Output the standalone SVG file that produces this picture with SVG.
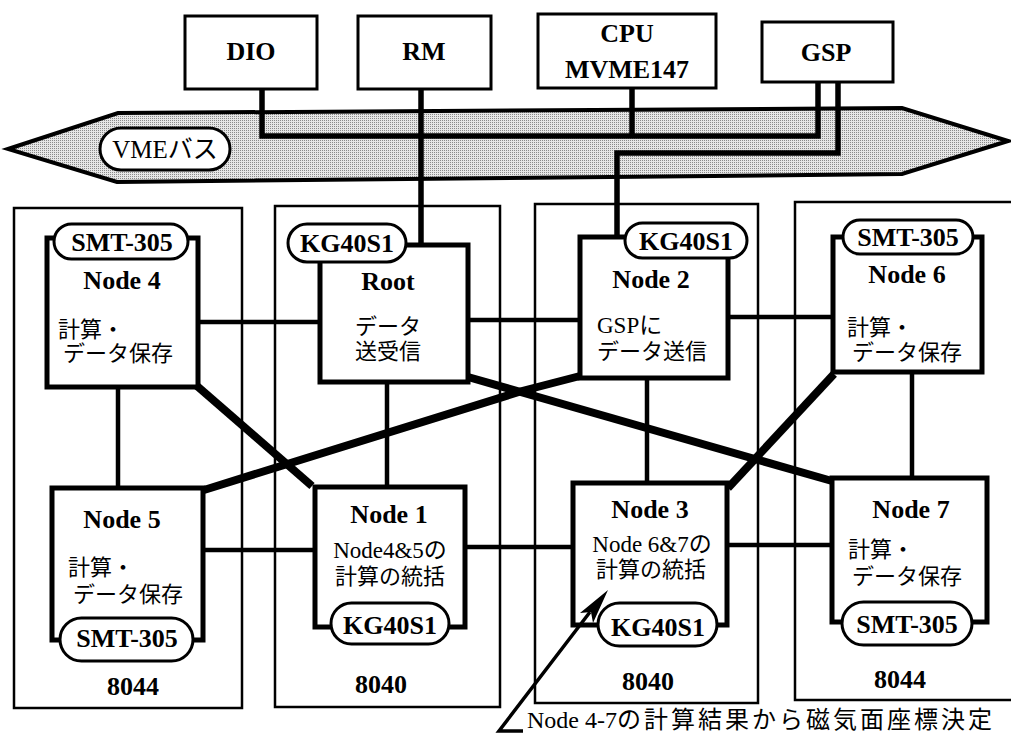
<svg xmlns="http://www.w3.org/2000/svg" width="1011" height="738" viewBox="0 0 1011 738">
<style>
.nb{fill:#fff;stroke:#000;stroke-width:5}
.box{fill:#fff;stroke:#000;stroke-width:3}
.pill{fill:#fff;stroke:#000;stroke-width:3}
.fr{fill:none;stroke:#000;stroke-width:2.5}
.b{font-family:"Liberation Serif","Noto Sans CJK JP",serif;font-weight:bold;font-size:26px;text-anchor:middle;fill:#000}
.j{font-family:"Liberation Serif","Noto Sans CJK JP",sans-serif;font-size:22px;fill:#000}
.bl{fill:none;stroke:#000;stroke-width:5.5}
.c{fill:none;stroke:#000;stroke-width:4.5}
.t{fill:none;stroke:#000;stroke-width:8;stroke-linejoin:round}
</style>
<defs>
<pattern id="dots" width="2" height="2" patternUnits="userSpaceOnUse">
<rect width="2" height="2" fill="#e6e6e6"/>
<rect width="1" height="1" fill="#8a8a8a"/>
</pattern>
</defs>
<rect width="1011" height="738" fill="#fff"/>

<g id="frames">
<rect class="fr" x="14" y="208" width="228" height="500"/>
<rect class="fr" x="275" y="206" width="225" height="501"/>
<rect class="fr" x="535" y="204" width="223" height="499"/>
<rect class="fr" x="795" y="202" width="225" height="498"/>
<text class="b" x="133" y="695">8044</text>
<text class="b" x="381" y="693">8040</text>
<text class="b" x="648" y="690">8040</text>
<text class="b" x="900" y="688">8044</text>
</g>

<g id="vme-bus">
<polygon points="8,149 118,113 902,108 1008,141 902,174 117,182" fill="url(#dots)" stroke="#000" stroke-width="4" stroke-linejoin="miter"/>
<rect class="pill" x="100" y="128" width="130" height="42" rx="21"/>
<text x="165" y="158" text-anchor="middle" style="font-family:'Liberation Serif','Noto Sans CJK JP',serif;font-size:25px">VMEバス</text>
</g>

<g id="connectors">
<polyline class="bl" points="262,89 262,136 818,136 818,82"/>
<line class="bl" x1="632" y1="88" x2="632" y2="136"/>
<line class="bl" x1="421" y1="89" x2="421" y2="245"/>
<polyline class="bl" points="838,82 838,153 617,153 617,237"/>
<line class="c" x1="198" y1="322" x2="320" y2="322"/>
<line class="c" x1="468" y1="320" x2="580" y2="320"/>
<line class="c" x1="728" y1="317" x2="833" y2="317"/>
<line class="c" x1="118" y1="387" x2="118" y2="488"/>
<line class="c" x1="387" y1="382" x2="387" y2="487"/>
<line class="c" x1="647" y1="378" x2="647" y2="483"/>
<line class="c" x1="912" y1="372" x2="912" y2="478"/>
<line class="c" x1="203" y1="550" x2="315" y2="550"/>
<line class="c" x1="465" y1="547" x2="573" y2="547"/>
<line class="c" x1="727" y1="545" x2="832" y2="545"/>
<polyline class="t" points="197,386 312,486"/>
<polyline class="t" points="204,490 522,391 580,376"/>
<polyline class="t" points="468,377 832,481"/>
<polyline class="t" points="834,374 728,488"/>
</g>

<g id="dio">
<rect class="box" x="185" y="16" width="132" height="73"/>
<text class="b" x="251" y="60">DIO</text>
</g>
<g id="rm">
<rect class="box" x="358" y="16" width="133" height="73"/>
<text class="b" x="424" y="60">RM</text>
</g>
<g id="cpu">
<rect class="box" x="538" y="14" width="178" height="74"/>
<text class="b" x="627" y="42">CPU</text>
<text class="b" x="627" y="78">MVME147</text>
</g>
<g id="gsp">
<rect class="box" x="762" y="22" width="131" height="60"/>
<text class="b" x="826" y="61">GSP</text>
</g>

<g id="node4">
<rect class="nb" x="47" y="238" width="151" height="149"/>
<rect class="pill" x="54" y="224" width="134" height="35" rx="17.5"/>
<text class="b" x="122" y="251">SMT-305</text>
<text class="b" x="122" y="289">Node 4</text>
<text class="j"><tspan x="58" y="337">計算・</tspan><tspan x="63" y="361">データ保存</tspan></text>
</g>

<g id="root">
<rect class="nb" x="320" y="245" width="148" height="137"/>
<rect class="pill" x="288" y="224" width="118" height="38" rx="19"/>
<text class="b" x="347" y="252">KG40S1</text>
<text class="b" x="388" y="290">Root</text>
<text class="j" text-anchor="middle"><tspan x="388" y="334">データ</tspan><tspan x="388" y="359">送受信</tspan></text>
</g>

<g id="node2">
<rect class="nb" x="580" y="237" width="148" height="141"/>
<rect class="pill" x="625" y="223" width="122" height="35" rx="17.5"/>
<text class="b" x="686" y="250">KG40S1</text>
<text class="b" x="651" y="288">Node 2</text>
<text class="j"><tspan x="597" y="333" style="font-size:23px">GSPに</tspan><tspan x="597" y="359">データ送信</tspan></text>
</g>

<g id="node6">
<rect class="nb" x="833" y="237" width="149" height="135"/>
<rect class="pill" x="843" y="220" width="130" height="34" rx="17"/>
<text class="b" x="908" y="246">SMT-305</text>
<text class="b" x="907" y="283">Node 6</text>
<text class="j"><tspan x="847" y="335">計算・</tspan><tspan x="852" y="360">データ保存</tspan></text>
</g>

<g id="node5">
<rect class="nb" x="52" y="488" width="151" height="152"/>
<rect class="pill" x="60" y="618" width="133" height="43" rx="21.5"/>
<text class="b" x="127" y="647">SMT-305</text>
<text class="b" x="122" y="528">Node 5</text>
<text class="j"><tspan x="68" y="575">計算・</tspan><tspan x="73" y="602">データ保存</tspan></text>
</g>

<g id="node1">
<rect class="nb" x="315" y="487" width="150" height="140"/>
<rect class="pill" x="331" y="603" width="118" height="41" rx="20.5"/>
<text class="b" x="390" y="634">KG40S1</text>
<text class="b" x="389" y="523">Node 1</text>
<text class="j" text-anchor="middle"><tspan x="390" y="558" style="font-size:23px">Node4&amp;5の</tspan><tspan x="390" y="584">計算の統括</tspan></text>
</g>

<g id="node3">
<rect class="nb" x="573" y="483" width="154" height="142"/>
<rect class="pill" x="598" y="603" width="119" height="43" rx="21.5"/>
<text class="b" x="658" y="636">KG40S1</text>
<text class="b" x="650" y="518">Node 3</text>
<text class="j" text-anchor="middle"><tspan x="652" y="552" style="font-size:23px">Node 6&amp;7の</tspan><tspan x="651" y="577">計算の統括</tspan></text>
</g>

<g id="node7">
<rect class="nb" x="832" y="478" width="155" height="144"/>
<rect class="pill" x="842" y="602" width="130" height="43" rx="21.5"/>
<text class="b" x="907" y="633">SMT-305</text>
<text class="b" x="911" y="518">Node 7</text>
<text class="j"><tspan x="848" y="557">計算・</tspan><tspan x="852" y="584">データ保存</tspan></text>
</g>

<g id="annotation">
<polyline points="523,731 499,731 590,612" fill="none" stroke="#000" stroke-width="3.5" stroke-linejoin="miter"/>
<polygon points="608,590 580,613 591,612 593,623" fill="#000"/>
<text x="527" y="728" style="font-family:'Liberation Serif','Noto Sans CJK JP',sans-serif;font-size:24px">Node 4-7<tspan style="letter-spacing:3px">の計算結果から磁気面座標決定</tspan></text>
</g>
</svg>
